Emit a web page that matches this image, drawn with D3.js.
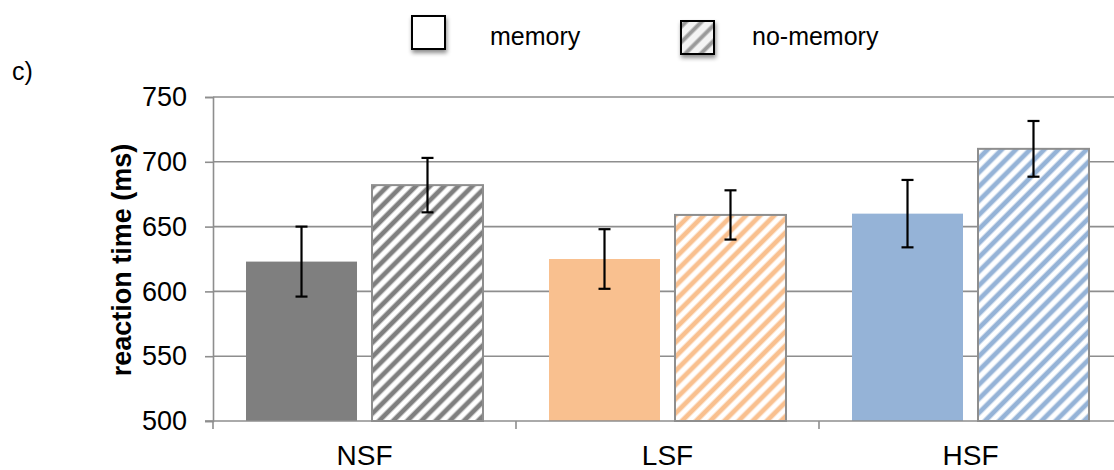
<!DOCTYPE html>
<html>
<head>
<meta charset="utf-8">
<script src="https://cdn.jsdelivr.net/npm/d3@7"></script>
<style>
  body { margin: 0; background: #fff; }
  text { font-family: "Liberation Sans", Arial, Helvetica, sans-serif; fill: #000; }
</style>
</head>
<body>
<div id="chart"></div>
<script>
// data
const categories = ['NSF', 'LSF', 'HSF'];
const series = ['memory', 'no-memory'];
const memoryValues = [623, 625, 660];
const noMemoryValues = [682, 659, 710];
const memoryErrors = [27, 23, 26];
const noMemoryErrors = [21, 19, 21.5];
const categoryColors = ['#7f7f7f', '#f9c08f', '#95b3d7'];
const yTicks = [500, 550, 600, 650, 700, 750];

const width = 1114;
const height = 470;
const plotLeft = 213, plotRight = 1122, plotTop = 97, plotBottom = 421;

const svg = d3.select('#chart').append('svg')
    .attr('width', width)
    .attr('height', height);

const defs = svg.append('defs');

// diagonal hatch for every category colour
categoryColors.forEach(function(c, i) {
    const p = defs.append('pattern')
        .attr('id', 'hatch' + i)
        .attr('patternUnits', 'userSpaceOnUse')
        .attr('width', 10)
        .attr('height', 10)
        .attr('patternTransform', 'rotate(45)');
    p.append('rect').attr('width', 10).attr('height', 10).attr('fill', '#fff');
    p.append('line')
        .attr('x1', 5).attr('y1', 0).attr('x2', 5).attr('y2', 10)
        .attr('stroke', c)
        .attr('stroke-width', 4.8);
});

const legendHatch = defs.append('pattern')
    .attr('id', 'legendHatch')
    .attr('patternUnits', 'userSpaceOnUse')
    .attr('width', 11)
    .attr('height', 11)
    .attr('patternTransform', 'rotate(45)');
legendHatch.append('rect').attr('width', 11).attr('height', 11).attr('fill', '#f4f4f4');
legendHatch.append('line')
    .attr('x1', 5.5).attr('y1', 0).attr('x2', 5.5).attr('y2', 11)
    .attr('stroke', '#9a9a9a')
    .attr('stroke-width', 4);

const shadow = defs.append('filter')
    .attr('id', 'shadow')
    .attr('x', '-30%').attr('y', '-30%')
    .attr('width', '160%').attr('height', '170%');
shadow.append('feDropShadow')
    .attr('dx', 1).attr('dy', 3)
    .attr('stdDeviation', 2)
    .attr('flood-color', '#000')
    .attr('flood-opacity', 0.45);

const y = d3.scaleLinear().domain([500, 750]).range([plotBottom, plotTop]);
const x0 = d3.scaleBand().domain(categories).range([plotLeft, plotRight]).padding(0);
const x1 = d3.scaleBand().domain(series).range([0, x0.bandwidth()])
    .paddingInner(0.119)
    .paddingOuter(0.262);

// gridlines
svg.append('g')
    .selectAll('line')
    .data(yTicks.slice(1))
    .join('line')
    .attr('x1', plotLeft)
    .attr('x2', width)
    .attr('y1', d => y(d))
    .attr('y2', d => y(d))
    .attr('stroke', '#8e8e8e')
    .attr('stroke-width', 1.6);

// y axis
const yAxis = svg.append('g')
    .attr('transform', 'translate(' + plotLeft + ',0)')
    .call(d3.axisLeft(y).tickValues(yTicks).tickSize(8).tickPadding(18));
yAxis.select('.domain').attr('stroke', '#8e8e8e').attr('stroke-width', 1.6);
yAxis.selectAll('.tick line').attr('stroke', '#8e8e8e').attr('stroke-width', 1.6);
yAxis.selectAll('.tick text')
    .attr('font-size', 27)
    .attr('font-family', '"Liberation Sans", Arial, sans-serif')
    .attr('fill', '#000');

// bars
const rows = categories.map(function(c, i) {
    return [
        {cat: c, key: 'memory', i: i, value: memoryValues[i], err: memoryErrors[i]},
        {cat: c, key: 'no-memory', i: i, value: noMemoryValues[i], err: noMemoryErrors[i]}
    ];
});

const groups = svg.append('g')
    .selectAll('g')
    .data(rows)
    .join('g')
    .attr('transform', d => 'translate(' + x0(d[0].cat) + ',0)');

groups.selectAll('rect')
    .data(d => d)
    .join('rect')
    .attr('x', d => x1(d.key))
    .attr('width', x1.bandwidth())
    .attr('y', d => y(d.value))
    .attr('height', d => y(500) - y(d.value))
    .attr('fill', d => d.key === 'memory' ? categoryColors[d.i] : 'url(#hatch' + d.i + ')')
    .attr('stroke', d => d.key === 'memory' ? 'none' : '#8e8e8e')
    .attr('stroke-width', 2);

// error bars
const errs = groups.selectAll('g.err')
    .data(d => d)
    .join('g')
    .attr('class', 'err')
    .attr('stroke', '#000')
    .attr('stroke-width', 2.2);
errs.append('line')
    .attr('x1', d => x1(d.key) + x1.bandwidth() / 2)
    .attr('x2', d => x1(d.key) + x1.bandwidth() / 2)
    .attr('y1', d => y(d.value + d.err))
    .attr('y2', d => y(d.value - d.err));
errs.selectAll('line.cap')
    .data(d => [[d, d.value + d.err], [d, d.value - d.err]])
    .join('line')
    .attr('class', 'cap')
    .attr('x1', d => x1(d[0].key) + x1.bandwidth() / 2 - 6)
    .attr('x2', d => x1(d[0].key) + x1.bandwidth() / 2 + 6)
    .attr('y1', d => y(d[1]))
    .attr('y2', d => y(d[1]));

// x axis
const xAxis = svg.append('g')
    .attr('transform', 'translate(0,' + plotBottom + ')');
xAxis.append('line')
    .attr('x1', plotLeft - 8).attr('x2', width)
    .attr('stroke', '#8e8e8e').attr('stroke-width', 1.6);
xAxis.selectAll('line.sep')
    .data(categories)
    .join('line')
    .attr('class', 'sep')
    .attr('x1', d => x0(d)).attr('x2', d => x0(d))
    .attr('y1', 0).attr('y2', 8)
    .attr('stroke', '#8e8e8e').attr('stroke-width', 1.6);
xAxis.selectAll('text')
    .data(categories)
    .join('text')
    .attr('x', d => x0(d) + x0.bandwidth() / 2)
    .attr('y', 44)
    .attr('text-anchor', 'middle')
    .attr('font-size', 28)
    .text(d => d);

// axis title
svg.append('text')
    .attr('transform', 'translate(131,260) rotate(-90)')
    .attr('text-anchor', 'middle')
    .attr('font-size', 27)
    .attr('font-weight', 'bold')
    .text('reaction time (ms)');

svg.append('text')
    .attr('x', 12)
    .attr('y', 80)
    .attr('font-size', 25)
    .text('c)');

// legend
const legend = [
    {label: 'memory', x: 412, y: 16, fill: '#fff', tx: 490},
    {label: 'no-memory', x: 681, y: 21, fill: 'url(#legendHatch)', tx: 752}
];
const lg = svg.append('g').selectAll('g').data(legend).join('g');
lg.append('rect')
    .attr('x', d => d.x)
    .attr('y', d => d.y)
    .attr('width', 33)
    .attr('height', 33)
    .attr('fill', d => d.fill)
    .attr('stroke', '#000')
    .attr('stroke-width', 2)
    .attr('filter', 'url(#shadow)');
lg.append('text')
    .attr('x', d => d.tx)
    .attr('y', 45)
    .attr('font-size', 25)
    .text(d => d.label);
</script>
</body>
</html>
